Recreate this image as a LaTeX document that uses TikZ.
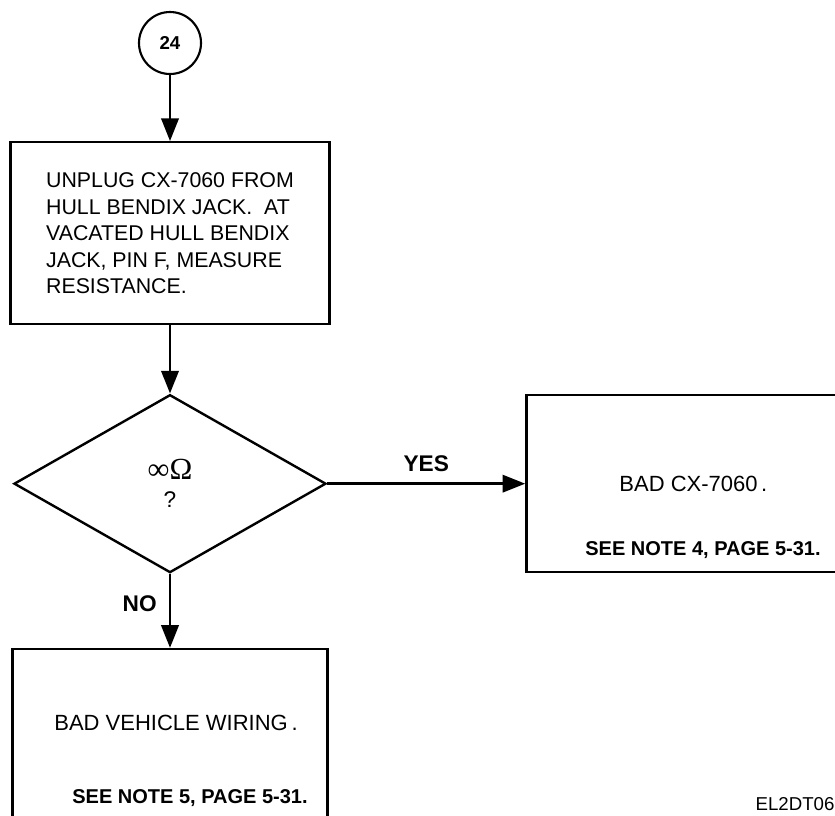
\documentclass[tikz,border=0pt]{standalone}
\usepackage{fontspec}
\setmainfont{Liberation Sans}
\newfontfamily\symfont{Liberation Serif}
\usetikzlibrary{shapes.geometric, arrows.meta, positioning}

\begin{document}
\begin{tikzpicture}[
    x=0.75pt, y=-0.75pt,
    box/.style={rectangle, draw=black, line width=1.8pt, inner sep=0pt},
    dnode/.style={diamond, draw=black, line width=1.8pt, inner sep=0pt, minimum width=234pt, minimum height=133.5pt, align=center},
    cnode/.style={circle, draw=black, line width=1.6pt, minimum size=46.5pt, inner sep=0pt, font=\fontsize{14}{14}\selectfont\bfseries},
    txt/.style={inner sep=0pt, font=\fontsize{16.5}{20}\selectfont},
    note/.style={inner sep=0pt, font=\fontsize{15}{18}\selectfont\bfseries},
    lbl/.style={inner sep=0pt, font=\fontsize{17}{20}\selectfont\bfseries},
    arr/.style={-{Triangle[length=17pt, width=13pt]}, line width=2pt}
]
\useasboundingbox (0,0) rectangle (835,815);
\clip (0,0) rectangle (835,815);

\node[cnode] (c24) at (170,43) {24};
\node[box, minimum width=239pt, minimum height=136.5pt, below=49.5pt of c24, align=left, font=\fontsize{16}{19.9}\selectfont] (unplug) {UNPLUG CX-7060 FROM\\HULL BENDIX JACK.\ \ AT\\VACATED HULL BENDIX\\JACK, PIN F, MEASURE\\RESISTANCE.};
\node[dnode, below=51pt of unplug, font=\fontsize{17}{21}\selectfont] (check) {{\symfont\fontsize{23}{21}\selectfont ∞Ω}\\?};
\node[box, txt, minimum width=250.5pt, minimum height=132.75pt, right=148.5pt of check] (badcx) {BAD CX-7060\,.};
\node[box, minimum width=236.25pt, minimum height=141pt, below=55.5pt of check] (wiring) {};

% texts in the lower boxes
\node[txt] (wiring_txt) at (176,723) {BAD VEHICLE WIRING\,.};
\node[note] (note5) at (190,798) {SEE NOTE 5, PAGE 5-31.};
\node[note] (note4) at (703,550) {SEE NOTE 4, PAGE 5-31.};
\node[inner sep=0pt, font=\fontsize{14}{14}\selectfont] (figid) at (795,804) {EL2DT06};

\draw[arr] (c24) -- (unplug);
\draw[arr] (unplug) -- (check);
\draw[arr] (check) -- node[lbl, above=8pt] {YES} (badcx);
\draw[arr] (check) -- node[lbl, left=9pt, pos=0.4] {NO} (wiring);

\end{tikzpicture}
\end{document}
